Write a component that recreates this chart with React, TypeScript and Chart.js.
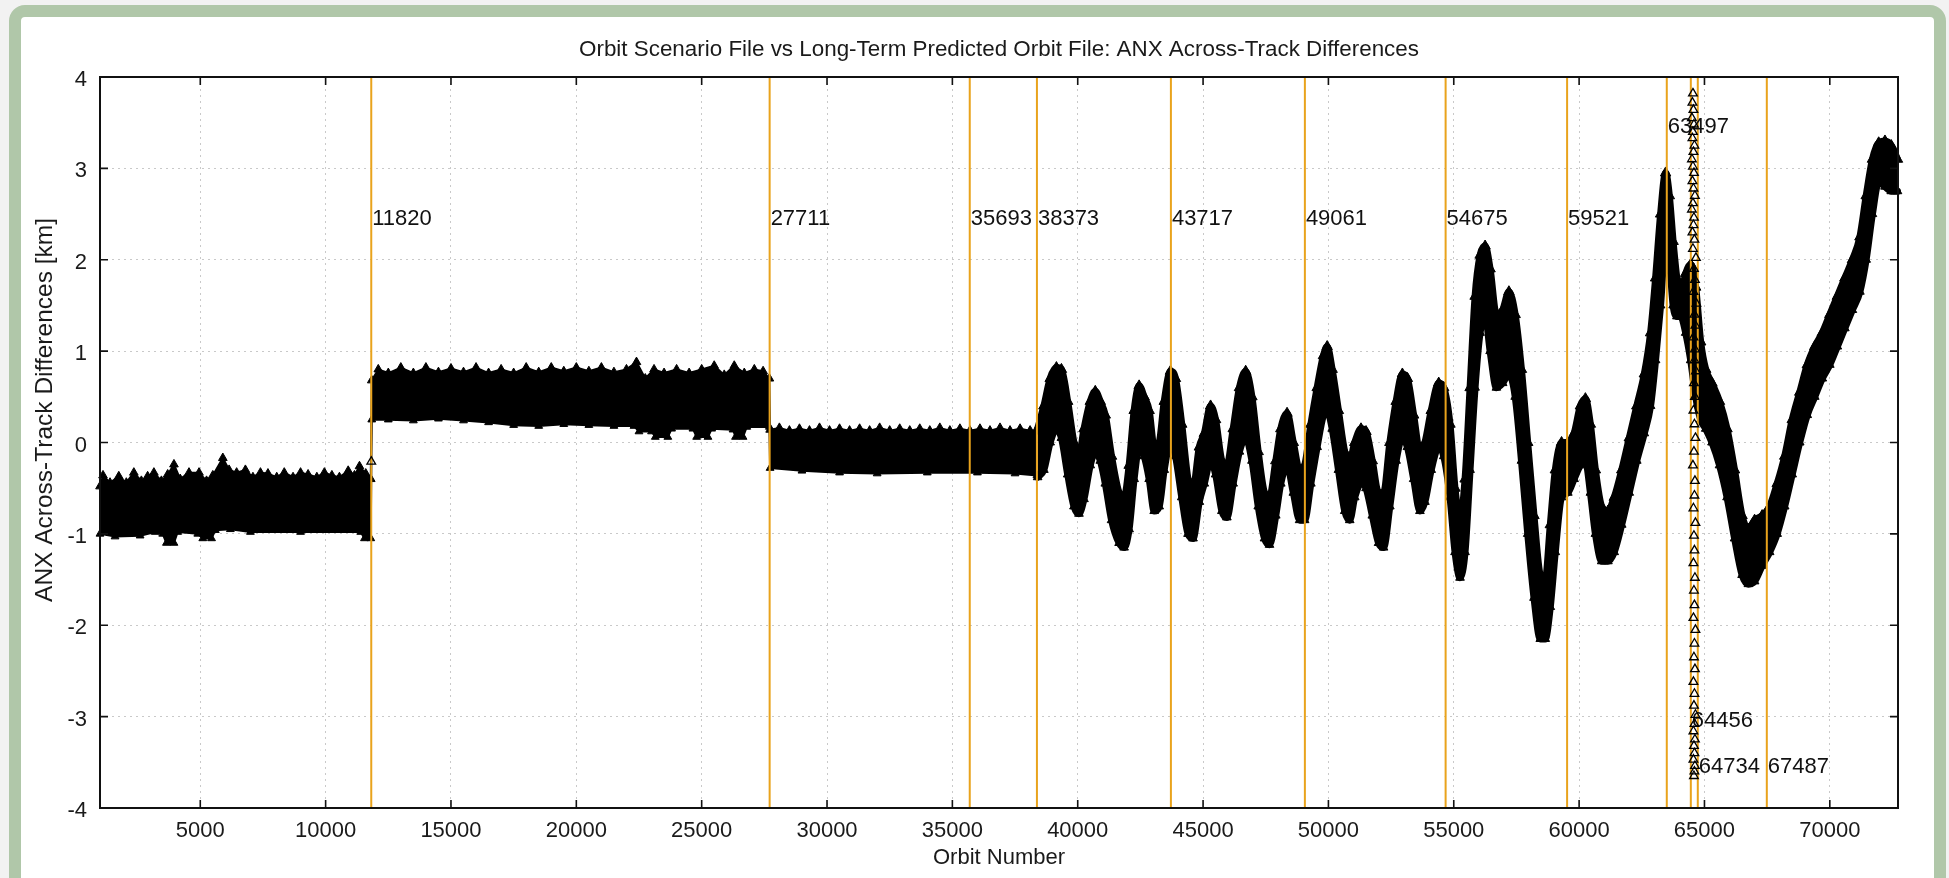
import React, { useEffect, useRef } from "react";
import { Chart, registerables } from "chart.js";

Chart.register(...registerables);

const FONT = '"Liberation Sans", Arial, Helvetica, sans-serif';

const TITLE = "Orbit Scenario File vs Long-Term Predicted Orbit File: ANX Across-Track Differences";
const X_TITLE = "Orbit Number";
const Y_TITLE = "ANX Across-Track Differences [km]";

const xTicks = [5000, 10000, 15000, 20000, 25000, 30000, 35000, 40000, 45000, 50000, 55000, 60000, 65000, 70000];
const yTicks = [-4, -3, -2, -1, 0, 1, 2, 3, 4];

const eventOrbits = [11820, 27711, 35693, 38373, 43717, 49061, 54675, 59521, 63497, 64456, 64734, 67487];
const eventLabelKm = [2.45, 2.45, 2.45, 2.45, 2.45, 2.45, 2.45, 2.45, 3.45, -3.05, -3.55, -3.55];

// ---- flat part (orbits 1000 - 38373): upper / lower edge of the marker band
const flatUpperOrbit = [
  1000, 1120, 1400, 1750, 2050, 2350, 2650, 2900, 3150, 3450, 3700, 3950, 4200, 4550, 4950, 5250, 5500, 5900, 6150, 6450,
  6800, 7100, 7400, 7700, 8050, 8350, 8700, 9000, 9300, 9650, 9950, 10250, 10550, 10900, 11150, 11350, 11600, 11800,
  11840, 12100, 12500, 13000, 13500, 14000, 14500, 15000, 15500, 16000, 16500, 17000, 17500, 18000, 18500, 19000, 19500,
  20000, 20500, 21000, 21500, 22000, 22400, 22750, 23100, 23500, 24000, 24500, 25000, 25500, 25900, 26300, 26700, 27100,
  27450, 27700,
  27730, 28100, 28500, 28900, 29300, 29700, 30100, 30500, 30900, 31300, 31700, 32100, 32500, 32900, 33300, 33700, 34100,
  34500, 34900, 35300, 35700, 36100, 36500, 36900, 37300, 37700, 38100, 38373,
];
const flatUpperKm = [
  -0.48, -0.36, -0.44, -0.37, -0.44, -0.33, -0.42, -0.37, -0.33, -0.42, -0.35, -0.24, -0.4, -0.33, -0.33, -0.42, -0.36, -0.17, -0.3, -0.33,
  -0.3, -0.38, -0.33, -0.34, -0.38, -0.33, -0.38, -0.33, -0.35, -0.38, -0.33, -0.36, -0.38, -0.31, -0.36, -0.26, -0.34, -0.4,
  0.68, 0.8, 0.76, 0.82, 0.76, 0.82, 0.77, 0.81, 0.77, 0.82, 0.76, 0.8, 0.76, 0.82, 0.77, 0.82, 0.78,
  0.82, 0.78, 0.82, 0.77, 0.8, 0.88, 0.7, 0.8, 0.76, 0.8, 0.76, 0.8, 0.84, 0.74, 0.84, 0.76, 0.8,
  0.78, 0.7,
  0.14, 0.16, 0.13, 0.15, 0.13, 0.16, 0.13, 0.15, 0.13, 0.15, 0.13, 0.16, 0.13, 0.15, 0.13, 0.15, 0.13,
  0.16, 0.13, 0.15, 0.13, 0.15, 0.13, 0.16, 0.13, 0.15, 0.13, 0.12,
];
const flatLowerOrbit = [
  1000, 1600, 2600, 3200, 3500, 3650, 3950, 4100, 4900, 5100, 5450, 5600, 6200, 7000, 9000, 11400, 11550, 11800,
  11840, 12500, 13500, 14500, 15500, 16500, 17500, 18500, 19500, 20500, 21500, 22300, 22500, 23000, 23150, 23650, 23800,
  24650, 24800, 25250, 25400, 26250, 26350, 26650, 26800, 27700,
  27730, 29000, 30500, 32000, 34000, 36000, 37500, 38373,
];
const flatLowerKm = [
  -1.0, -1.03, -1.02, -0.98, -1.0, -1.1, -1.1, -0.98, -1.0, -1.05, -1.05, -0.96, -0.95, -0.98, -0.98, -0.98, -1.05, -1.05,
  0.25, 0.25, 0.24, 0.26, 0.24, 0.22, 0.19, 0.18, 0.2, 0.19, 0.18, 0.18, 0.12, 0.12, 0.06, 0.06, 0.15,
  0.15, 0.06, 0.06, 0.15, 0.14, 0.06, 0.06, 0.17, 0.17,
  -0.28, -0.31, -0.33, -0.34, -0.33, -0.33, -0.34, -0.36,
];

// ---- wavy part (orbits 38373 - 72700): top and bottom edge of the band
const wavyOrbit = [
  38400, 38650, 38900, 39150, 39350, 39600, 39850, 40050, 40250, 40500, 40700, 40900, 41100, 41350, 41650, 41850, 42050,
  42250, 42450, 42650, 42850, 43050, 43250, 43450, 43700, 43900, 44150, 44400, 44600, 44850, 45050, 45300, 45500, 45750,
  45950, 46200, 46450, 46700, 46950, 47200, 47450, 47650, 47900, 48100, 48350, 48600, 48850, 49050, 49300, 49550, 49800,
  49950, 50150, 50400, 50650, 50850, 51050, 51300, 51500, 51750, 52000, 52200, 52450, 52700, 52950, 53150, 53400, 53650,
  53850, 54100, 54400, 54600, 54850, 55050, 55250, 55450, 55650, 55850, 56050, 56250, 56450, 56700, 56950, 57200, 57450,
  57700, 57950, 58200, 58450, 58650, 58850, 59050, 59300, 59550, 59800, 60050, 60250, 60450, 60650, 60900, 61150, 61400,
  61700, 62000, 62300, 62600, 62850, 63050, 63250, 63450, 63600, 63750, 63900, 64050, 64250, 64450, 64650, 64850, 65050,
  65300, 65600, 65900, 66200, 66500, 66750, 67000, 67300, 67600, 67900, 68200, 68500, 68800, 69100, 69400, 69700, 70000,
  70300, 70600, 70900, 71200, 71450, 71700, 71950, 72200, 72450, 72700,
];
const wavyTopKm = [
  0.15, 0.4, 0.7, 0.82, 0.8, 0.45, 0.0, -0.15, 0.15, 0.45, 0.56, 0.45, 0.3, -0.15, -0.55, -0.6, -0.25,
  0.35, 0.62, 0.5, 0.35, -0.05, 0.0, 0.45, 0.78, 0.7, 0.2, -0.4, -0.5, -0.05, 0.1, 0.4, 0.25, -0.2,
  -0.25, 0.15, 0.6, 0.78, 0.5, -0.1, -0.55, -0.6, -0.2, 0.15, 0.32, 0.0, -0.3, -0.25, 0.2, 0.6, 0.95,
  1.05, 0.8, 0.35, -0.1, -0.2, 0.0, 0.15, 0.12, -0.2, -0.55, -0.55, 0.0, 0.45, 0.75, 0.7, 0.3, -0.1,
  0.0, 0.35, 0.65, 0.6, 0.2, -0.5, -0.85, -0.4, 0.6, 1.6, 2.05, 2.15, 1.9, 1.4, 1.45, 1.65, 1.4,
  0.8, 0.0, -0.8, -1.45, -1.5, -0.9, -0.3, 0.0, 0.0, 0.1, 0.4, 0.48, 0.2, -0.3, -0.7, -0.75, -0.6,
  -0.3, 0.05, 0.4, 0.75, 1.2, 1.8, 2.5, 2.95, 2.7, 2.2, 1.8, 1.6, 1.85, 1.95, 1.7, 1.1, 0.8,
  0.65, 0.45, 0.15, -0.3, -0.8, -0.95, -0.85, -0.8, -0.7, -0.45, -0.15, 0.25, 0.55, 0.85, 1.05, 1.2, 1.4,
  1.6, 1.8, 2.0, 2.25, 2.7, 3.1, 3.28, 3.3, 3.25, 3.1,
];
const wavyBottomKm = [
  -0.38, -0.3, 0.0, 0.15, 0.05, -0.35, -0.7, -0.78, -0.62, -0.25, -0.1, -0.2, -0.45, -0.85, -1.1, -1.15, -0.95,
  -0.4, -0.05, -0.15, -0.4, -0.75, -0.7, -0.3, 0.0, -0.15, -0.6, -1.0, -1.05, -0.65, -0.45, -0.2, -0.35, -0.75,
  -0.82, -0.45, -0.1, 0.05, -0.2, -0.7, -1.05, -1.12, -0.8, -0.45, -0.25, -0.55, -0.85, -0.85, -0.45, -0.05, 0.3,
  0.35, 0.15, -0.3, -0.75, -0.85, -0.6, -0.45, -0.5, -0.8, -1.1, -1.15, -0.7, -0.2, 0.05, -0.05, -0.4, -0.75,
  -0.65, -0.3, -0.05, -0.15, -0.6, -1.2, -1.48, -1.2, -0.3, 0.6, 1.2, 1.4, 1.0, 0.6, 0.65, 0.75, 0.5,
  -0.2, -1.0, -1.7, -2.15, -2.15, -1.8, -1.2, -0.6, -0.55, -0.4, -0.25, -0.2, -0.55, -1.0, -1.3, -1.3, -1.2,
  -0.9, -0.55, -0.2, 0.1, 0.4, 0.9, 1.5, 2.2, 2.0, 1.5, 1.38, 1.38, 1.2, 0.9, 0.5, 0.25, 0.15,
  0.0, -0.25, -0.6, -1.05, -1.45, -1.55, -1.52, -1.35, -1.2, -1.0, -0.7, -0.35, 0.0, 0.3, 0.5, 0.7, 0.85,
  1.05, 1.25, 1.45, 1.65, 2.0, 2.5, 2.85, 2.8, 2.75, 2.75,
];

// ---- scattered single markers (jump at 11820 and the 64456-64734 excursion)
const isolatedOrbit = [
  11820,
  64540, 64520, 64560, 64500, 64580, 64540, 64520, 64600, 64560, 64500, 64540, 64580, 64520, 64560, 64620, 64540, 64500,
  64580, 64560, 64520, 64600, 64540, 64660, 64580, 64620, 64560, 64680, 64600, 64640, 64560, 64620, 64600, 64660, 64580,
  64620, 64560, 64600, 64640, 64580, 64540, 64620, 64600, 64560, 64640, 64580, 64600, 64560, 64620, 64580, 64600, 64560,
  64640, 64600, 64580, 64620, 64560, 64600, 64580, 64640, 64600, 64560, 64620, 64580, 64600, 64560, 64620, 64600, 64580,
];
const isolatedKm = [
  -0.21,
  3.82, 3.72, 3.64, 3.55, 3.48, 3.4, 3.33, 3.25, 3.18, 3.1, 3.02, 2.95, 2.86, 2.78, 2.7, 2.62, 2.55,
  2.46, 2.38, 2.3, 2.22, 2.12, 2.02, 1.9, 1.78, 1.65, 1.52, 1.4, 1.28, 1.15, 1.02, 0.9, 0.78, 0.65,
  0.5, 0.35, 0.2, 0.05, -0.1, -0.25, -0.42, -0.58, -0.72, -0.88, -1.02, -1.18, -1.32, -1.48, -1.62, -1.78, -1.92,
  -2.05, -2.2, -2.35, -2.48, -2.62, -2.75, -2.88, -2.98, -3.08, -3.16, -3.25, -3.32, -3.4, -3.47, -3.54, -3.6, -3.65,
];

const pts = (xs: number[], ys: number[]) => xs.map((x, i) => ({ x, y: ys[i] }));

const overlayPlugin = {
  id: "overlay",
  afterDatasetDraw(chart: any, args: any) {
    if (args.index !== 1) return;
    const { ctx, chartArea: a, scales } = chart;
    const x = scales.x;
    const y = scales.y;
    ctx.save();
    ctx.strokeStyle = "#e9a31c";
    ctx.lineWidth = 2;
    eventOrbits.forEach((o) => {
      const px = x.getPixelForValue(o);
      ctx.beginPath();
      ctx.moveTo(px, a.top);
      ctx.lineTo(px, a.bottom);
      ctx.stroke();
    });
    ctx.fillStyle = "#111";
    ctx.font = `22px ${FONT}`;
    ctx.textAlign = "left";
    ctx.textBaseline = "middle";
    eventOrbits.forEach((o, i) => {
      ctx.fillText(String(o), x.getPixelForValue(o) + 1, y.getPixelForValue(eventLabelKm[i]));
    });
    ctx.restore();
  },
  afterDraw(chart: any) {
    const { ctx, chartArea: a, scales } = chart;
    const x = scales.x;
    const y = scales.y;
    ctx.save();
    ctx.strokeStyle = "#111";
    ctx.lineWidth = 1.6;
    ctx.beginPath();
    xTicks.forEach((v) => {
      const px = x.getPixelForValue(v);
      ctx.moveTo(px, a.bottom);
      ctx.lineTo(px, a.bottom - 8);
      ctx.moveTo(px, a.top);
      ctx.lineTo(px, a.top + 8);
    });
    yTicks.forEach((v) => {
      const py = y.getPixelForValue(v);
      ctx.moveTo(a.left, py);
      ctx.lineTo(a.left + 8, py);
      ctx.moveTo(a.right, py);
      ctx.lineTo(a.right - 8, py);
    });
    ctx.stroke();
    ctx.lineWidth = 2;
    ctx.strokeRect(a.left, a.top, a.right - a.left, a.bottom - a.top);

    ctx.fillStyle = "#1a1a1a";
    ctx.textAlign = "center";
    ctx.textBaseline = "middle";
    const cx = (a.left + a.right) / 2;
    ctx.font = `22.4px ${FONT}`;
    ctx.fillText(TITLE, cx, 50);
    ctx.font = `22px ${FONT}`;
    ctx.fillText(X_TITLE, cx, 858);
    ctx.font = `24.5px ${FONT}`;
    ctx.translate(45, 410);
    ctx.rotate(-Math.PI / 2);
    ctx.fillText(Y_TITLE, 0, 0);
    ctx.restore();
  },
};

const bandStyle = {
  borderColor: "#000",
  backgroundColor: "#000",
  pointStyle: "triangle",
  pointBorderWidth: 1,
  pointBorderColor: "#000",
  pointBackgroundColor: "#000",
  borderJoinStyle: "round",
  borderCapStyle: "round",
  clip: false,
};

export default function App() {
  const ref = useRef<HTMLCanvasElement>(null);
  useEffect(() => {
    const tickFont = { family: FONT, size: 22 };
    const chart = new Chart(ref.current as HTMLCanvasElement, {
      type: "line",
      data: {
        datasets: [
          {
            label: "isolated",
            data: pts(isolatedOrbit, isolatedKm),
            showLine: false,
            pointStyle: "triangle",
            pointRadius: 5,
            pointBorderWidth: 1.3,
            pointBorderColor: "#000",
            pointBackgroundColor: "rgba(0,0,0,0)",
            borderColor: "#000",
            clip: false,
          } as any,
          {
            ...bandStyle,
            label: "wavy top",
            data: pts(wavyOrbit, wavyTopKm),
            borderWidth: 7,
            fill: "+1",
            cubicInterpolationMode: "monotone",
            pointRadius: 6,
          } as any,
          {
            ...bandStyle,
            label: "wavy bottom",
            data: pts(wavyOrbit, wavyBottomKm),
            borderWidth: 7,
            fill: false,
            cubicInterpolationMode: "monotone",
            pointRadius: 5,
          } as any,
          {
            ...bandStyle,
            label: "flat top",
            data: pts(flatUpperOrbit, flatUpperKm),
            borderWidth: 2,
            fill: "+1",
            tension: 0,
            pointRadius: 5,
          } as any,
          {
            ...bandStyle,
            label: "flat bottom",
            data: pts(flatLowerOrbit, flatLowerKm),
            borderWidth: 2,
            fill: false,
            tension: 0,
            pointRadius: 4.5,
          } as any,
        ],
      },
      options: {
        responsive: false,
        maintainAspectRatio: false,
        devicePixelRatio: 1,
        animation: false,
        events: [],
        layout: { padding: { left: 0, top: 77, right: 51, bottom: 0 } },
        plugins: {
          legend: { display: false },
          title: { display: false },
          tooltip: { enabled: false },
        },
        scales: {
          x: {
            type: "linear",
            min: 1000,
            max: 72720,
            afterBuildTicks: (s: any) => {
              s.ticks = xTicks.map((v) => ({ value: v }));
            },
            afterFit: (s: any) => {
              s.height = 70;
            },
            ticks: {
              font: tickFont,
              color: "#1a1a1a",
              padding: 10,
              maxRotation: 0,
              autoSkip: false,
              callback: (v: any) => String(v),
            },
            grid: { color: "#c9c9c9", lineWidth: 1, drawTicks: false },
            border: { display: false, dash: [2, 4] },
          },
          y: {
            type: "linear",
            min: -4,
            max: 4,
            afterBuildTicks: (s: any) => {
              s.ticks = yTicks.map((v) => ({ value: v }));
            },
            afterFit: (s: any) => {
              s.width = 100;
            },
            ticks: { font: tickFont, color: "#1a1a1a", padding: 13, labelOffset: 3, callback: (v: any) => String(v) },
            grid: { color: "#c9c9c9", lineWidth: 1, drawTicks: false },
            border: { display: false, dash: [2, 4] },
          },
        },
      },
      plugins: [overlayPlugin],
    });
    return () => chart.destroy();
  }, []);

  return (
    <div style={{ position: "fixed", left: 0, top: 0, width: 1949, height: 878, overflow: "hidden", background: "#f2f2f2" }}>
      <div
        style={{
          position: "absolute",
          left: 9,
          top: 5,
          width: 1937,
          height: 900,
          boxSizing: "border-box",
          border: "12px solid #b0c7a9",
          borderRadius: 16,
          background: "#ffffff",
        }}
      />
      <canvas ref={ref} width={1949} height={878} style={{ position: "absolute", left: 0, top: 0, width: 1949, height: 878 }} />
    </div>
  );
}
